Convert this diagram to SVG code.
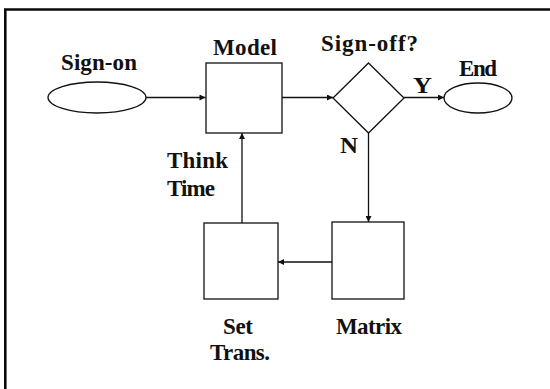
<svg xmlns="http://www.w3.org/2000/svg" width="550" height="389" viewBox="0 0 550 389">
  <style>
    .shape { fill: #ffffff; stroke: #111111; stroke-width: 1.3; }
    .wire { fill: none; stroke: #111111; stroke-width: 1.3; }
    .frame { fill: none; stroke: #0a0a0a; stroke-width: 2.6; }
    text { font-family: "Liberation Serif", "Times New Roman", serif; font-weight: bold; font-size: 23px; fill: #111111; }
  </style>
  <defs>
    <marker id="arrow" viewBox="0 0 10 10" refX="10" refY="5" markerWidth="7" markerHeight="6" markerUnits="userSpaceOnUse" orient="auto">
      <path d="M0,0 L10,5 L0,10 z" fill="#111111"/>
    </marker>
  </defs>

  <rect width="550" height="389" fill="#ffffff"/>

  <!-- outer frame (top and left edges) -->
  <path class="frame" d="M5.3,389 L5.3,9.5 L550,9.5"/>

  <!-- connectors -->
  <g id="connectors">
    <line class="wire" x1="146" y1="97.5" x2="205.5" y2="97.5" marker-end="url(#arrow)"/>
    <line class="wire" x1="282" y1="97.5" x2="333" y2="97.5" marker-end="url(#arrow)"/>
    <line class="wire" x1="404" y1="97.5" x2="444" y2="97.5" marker-end="url(#arrow)"/>
    <line class="wire" x1="368.5" y1="133" x2="368.5" y2="222" marker-end="url(#arrow)"/>
    <line class="wire" x1="332" y1="262" x2="278" y2="262" marker-end="url(#arrow)"/>
    <line class="wire" x1="242" y1="223" x2="242" y2="133" marker-end="url(#arrow)"/>
    <text x="413" y="93" textLength="19" lengthAdjust="spacingAndGlyphs">Y</text>
    <text x="340" y="153" textLength="18" lengthAdjust="spacingAndGlyphs">N</text>
    <text x="167" y="168" textLength="61" lengthAdjust="spacing">Think</text>
    <text x="167" y="196" textLength="48" lengthAdjust="spacing">Time</text>
  </g>

  <!-- start terminal -->
  <g id="sign-on">
    <ellipse class="shape" cx="97" cy="97.5" rx="49" ry="15.5"/>
    <text x="61" y="70" textLength="76" lengthAdjust="spacing">Sign-on</text>
  </g>

  <!-- model process -->
  <g id="model">
    <rect class="shape" x="206" y="63" width="76" height="70"/>
    <text x="213" y="55" textLength="64" lengthAdjust="spacing">Model</text>
  </g>

  <!-- decision -->
  <g id="sign-off">
    <polygon class="shape" points="368.5,63 404,98 368.5,133 333,98"/>
    <text x="321" y="51" textLength="97" lengthAdjust="spacing">Sign-off?</text>
  </g>

  <!-- end terminal -->
  <g id="end">
    <ellipse class="shape" cx="478" cy="98" rx="34" ry="15"/>
    <text x="459" y="76" textLength="38" lengthAdjust="spacing">End</text>
  </g>

  <!-- matrix process -->
  <g id="matrix">
    <rect class="shape" x="332" y="222" width="72" height="77"/>
    <text x="336" y="334" textLength="66" lengthAdjust="spacing">Matrix</text>
  </g>

  <!-- set transaction process -->
  <g id="set-trans">
    <rect class="shape" x="204" y="223" width="74" height="76"/>
    <text x="223" y="334" textLength="30" lengthAdjust="spacing">Set</text>
    <text x="210" y="360" textLength="60" lengthAdjust="spacing">Trans.</text>
  </g>
</svg>
